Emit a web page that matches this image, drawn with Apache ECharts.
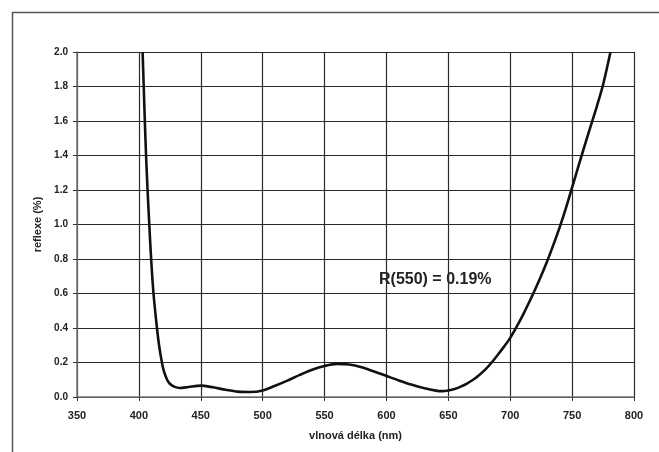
<!DOCTYPE html>
<html>
<head>
<meta charset="utf-8">
<script src="https://cdn.jsdelivr.net/npm/echarts@6/dist/echarts.min.js"></script>
<style>html,body{margin:0;padding:0;background:#fff}#c{width:659px;height:452px}</style>
</head>
<body>
<div id="c"></div>
<script>
const wavelengths = [403.0, 403.9, 404.8, 405.8, 407.0, 408.4, 409.9, 411.8, 414.6, 416.3, 418.6, 420.2, 422.8, 425, 428.5, 433, 440, 450, 460, 470, 480, 490, 500, 510, 520, 530, 540, 550, 560, 570, 580, 590, 600, 610, 620, 630, 640, 645, 650, 655, 660, 665, 670, 675, 680, 685, 690, 695, 700, 705, 710, 715, 720, 725, 730, 735, 740, 745, 750, 755, 760, 765, 770, 775, 781];
const reflectance = [2.0, 1.8, 1.6, 1.4, 1.2, 1.0, 0.8, 0.6, 0.4, 0.3, 0.2, 0.15, 0.10, 0.077, 0.06, 0.052, 0.058, 0.066, 0.056, 0.042, 0.031, 0.029, 0.038, 0.065, 0.095, 0.128, 0.158, 0.18, 0.192, 0.188, 0.172, 0.148, 0.122, 0.096, 0.072, 0.052, 0.037, 0.034, 0.038, 0.046, 0.06, 0.078, 0.1, 0.128, 0.16, 0.2, 0.245, 0.292, 0.343, 0.405, 0.472, 0.545, 0.622, 0.703, 0.79, 0.885, 0.985, 1.095, 1.215, 1.335, 1.455, 1.57, 1.685, 1.81, 2.0];
const xTicks = [350, 400, 450, 500, 550, 600, 650, 700, 750, 800];
const yTicks = [0.0, 0.2, 0.4, 0.6, 0.8, 1.0, 1.2, 1.4, 1.6, 1.8, 2.0];
const xTitle = 'vlnová délka (nm)';
const yTitle = 'reflexe (%)';
const note = 'R(550) = 0.19%';

const chart = echarts.init(document.getElementById('c'), null, {renderer: 'canvas'});
const font = 'Liberation Sans, Arial, sans-serif';
chart.setOption({
  animation: false,
  backgroundColor: '#fff',
  grid: {left: 77, right: 25, top: 52, bottom: 55},
  xAxis: {
    type: 'value',
    min: xTicks[0], max: xTicks[xTicks.length - 1], interval: 50,
    name: xTitle, nameLocation: 'middle', nameGap: 33,
    nameTextStyle: {fontFamily: font, fontWeight: 'bold', fontSize: 11, color: '#222'},
    axisLine: {show: true, lineStyle: {color: '#777', width: 1.5}},
    axisTick: {show: true, length: 4, lineStyle: {color: '#333'}},
    axisLabel: {fontFamily: font, fontWeight: 'bold', fontSize: 11, color: '#222', margin: 13},
    splitLine: {show: true, lineStyle: {color: '#2a2a2a', width: 1.2}}
  },
  yAxis: {
    type: 'value',
    min: yTicks[0], max: yTicks[yTicks.length - 1], interval: 0.2,
    name: yTitle, nameLocation: 'middle', nameGap: 31, nameRotate: 90,
    nameTextStyle: {fontFamily: font, fontWeight: 'bold', fontSize: 11, color: '#222'},
    axisLine: {show: true, lineStyle: {color: '#777', width: 1.5}},
    axisTick: {show: true, length: 4, lineStyle: {color: '#333'}},
    axisLabel: {fontFamily: font, fontWeight: 'bold', fontSize: 10, color: '#222', margin: 9,
      formatter: v => v.toFixed(1)},
    splitLine: {show: true, lineStyle: {color: '#2a2a2a', width: 1.2}}
  },
  series: [{
    type: 'line',
    data: wavelengths.map((w, i) => [w, reflectance[i]]),
    smooth: 0.3,
    showSymbol: false,
    lineStyle: {color: '#111', width: 2.6},
    clip: true
  }],
  graphic: [
    {type: 'rect', left: 10, top: 10, shape: {width: 720, height: 520},
      style: {fill: 'none', stroke: '#555', lineWidth: 1.5}, silent: true, z: -1},
    {type: 'text', left: 379, top: 272,
      style: {text: note, fontFamily: font, fontWeight: 'bold', fontSize: 16, fill: '#222'}}
  ]
});
</script>
</body>
</html>
